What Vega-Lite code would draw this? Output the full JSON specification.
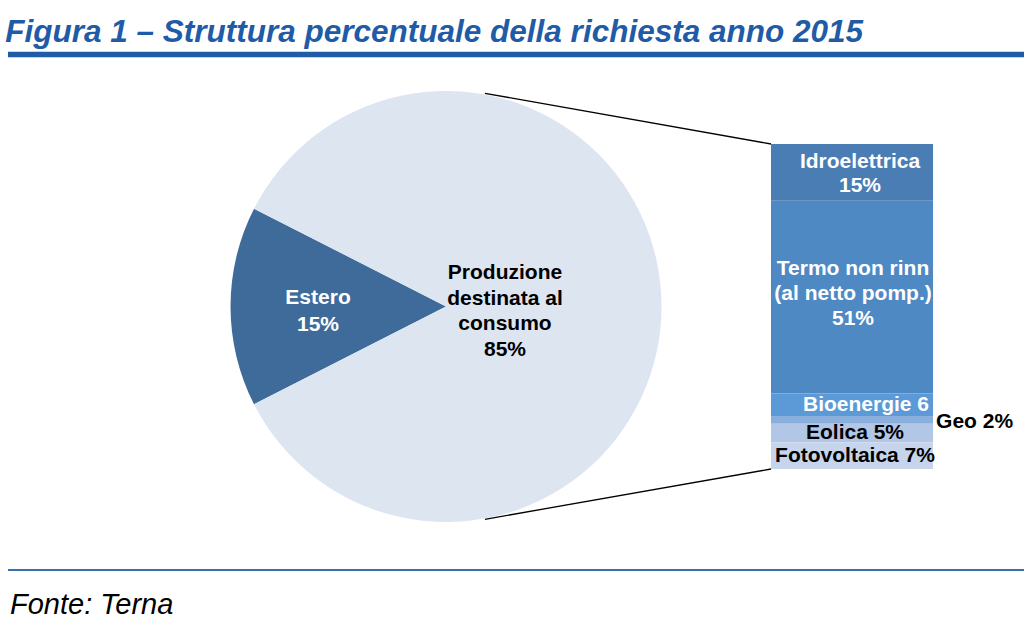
{
  "$schema": "https://vega.github.io/schema/vega-lite/v6.json",
  "width": 1014,
  "height": 517,
  "autosize": {"type": "none"},
  "padding": {"left": 10, "top": 53, "right": 0, "bottom": 54},
  "background": "white",
  "title": {
    "text": "Figura 1 – Struttura percentuale della richiesta anno 2015",
    "anchor": "start",
    "font": "Liberation Sans",
    "fontSize": 31.5,
    "fontWeight": "bold",
    "fontStyle": "italic",
    "color": "#1f5ba6",
    "baseline": "alphabetic",
    "offset": 13,
    "dy": 34.5
  },
  "config": {
    "view": {"stroke": null},
    "text": {"font": "Liberation Sans"}
  },
  "datasets": {
    "richiesta": [
      {"voce": "Estero", "quota": 15, "ordine": 1, "etichetta": "Estero\n15%"},
      {"voce": "Produzione destinata al consumo", "quota": 85, "ordine": 2, "etichetta": "Produzione\ndestinata al\nconsumo\n85%"}
    ],
    "produzione": [
      {"fonte": "Idroelettrica", "quota": 15, "ordine": 6, "etichetta": "Idroelettrica\n15%"},
      {"fonte": "Termo non rinnovabile (al netto pomp.)", "quota": 51, "ordine": 5, "etichetta": "Termo non rinn\n(al netto pomp.)\n51%"},
      {"fonte": "Bioenergie", "quota": 6, "ordine": 4, "etichetta": "Bioenergie 6"},
      {"fonte": "Geotermica", "quota": 2, "ordine": 3, "etichetta": "Geo 2%"},
      {"fonte": "Eolica", "quota": 5, "ordine": 2, "etichetta": "Eolica 5%"},
      {"fonte": "Fotovoltaica", "quota": 7, "ordine": 1, "etichetta": "Fotovoltaica 7%"}
    ],
    "fonte": [
      {"testo": "Fonte: Terna"}
    ]
  },
  "resolve": {"scale": {"color": "independent"}},
  "layer": [
    {
      "data": {"values": [{}]},
      "mark": {"type": "rule", "color": "#1f5ba6", "strokeWidth": 5.5},
      "encoding": {
        "x": {"datum": -0.2, "scale": {"domain": [0, 100], "nice": false, "zero": false}, "axis": null},
        "x2": {"datum": 100},
        "y": {"datum": 109.7, "scale": {"domain": [-26.73, 110.08], "nice": false, "zero": false}, "axis": null}
      }
    },
    {
      "data": {"values": [{}]},
      "mark": {"type": "rule", "color": "#3c6ea8", "strokeWidth": 2},
      "encoding": {
        "x": {"datum": -0.2, "scale": {"domain": [0, 100], "nice": false, "zero": false}, "axis": null},
        "x2": {"datum": 100},
        "y": {"datum": -26.73, "scale": {"domain": [-26.73, 110.08], "nice": false, "zero": false}, "axis": null}
      }
    },
    {
      "data": {"name": "fonte"},
      "mark": {"type": "text", "font": "Liberation Sans", "fontSize": 29, "fontStyle": "italic", "color": "black", "align": "left", "baseline": "alphabetic", "dy": 44},
      "encoding": {
        "text": {"field": "testo"},
        "x": {"datum": 0, "scale": {"domain": [0, 100], "nice": false, "zero": false}, "axis": null},
        "y": {"datum": -26.73, "scale": {"domain": [-26.73, 110.08], "nice": false, "zero": false}, "axis": null}
      }
    },
    {
      "data": {"name": "richiesta"},
      "mark": {"type": "arc", "outerRadius": 215.5},
      "encoding": {
        "theta": {"field": "quota", "type": "quantitative", "stack": true, "scale": {"range": [4.2412, 10.5244]}},
        "order": {"field": "ordine"},
        "color": {
          "field": "voce",
          "type": "nominal",
          "scale": {"domain": ["Estero", "Produzione destinata al consumo"], "range": ["#3e6b99", "#dde5f1"]},
          "legend": null
        },
        "x": {"datum": 43.0, "scale": {"domain": [0, 100], "nice": false, "zero": false}, "axis": null},
        "y": {"datum": 43.0, "scale": {"domain": [-26.73, 110.08], "nice": false, "zero": false}, "axis": null}
      }
    },
    {
      "data": {"name": "produzione"},
      "transform": [
        {"stack": "quota", "groupby": [], "sort": [{"field": "ordine", "order": "ascending"}], "as": ["y0", "y1"]}
      ],
      "mark": {"type": "rect"},
      "encoding": {
        "x": {"datum": 75.05, "scale": {"domain": [0, 100], "nice": false, "zero": false}, "axis": null},
        "x2": {"datum": 91.03},
        "y": {"field": "y0", "type": "quantitative", "scale": {"domain": [-26.73, 110.08], "nice": false, "zero": false}, "axis": null},
        "y2": {"field": "y1"},
        "color": {
          "field": "fonte",
          "type": "nominal",
          "scale": {
            "domain": ["Idroelettrica", "Termo non rinnovabile (al netto pomp.)", "Bioenergie", "Geotermica", "Eolica", "Fotovoltaica"],
            "range": ["#4a7db3", "#4f89c4", "#5b9ad6", "#8aafdc", "#b2c6e5", "#c7d5ec"]
          },
          "legend": null
        }
      }
    },
    {
      "data": {"values": [{}]},
      "mark": {"type": "rule", "color": "black", "strokeWidth": 1.3},
      "encoding": {
        "x": {"datum": 46.84, "scale": {"domain": [0, 100], "nice": false, "zero": false}, "axis": null},
        "x2": {"datum": 75.05},
        "y": {"datum": 99.42, "scale": {"domain": [-26.73, 110.08], "nice": false, "zero": false}, "axis": null},
        "y2": {"datum": 86}
      }
    },
    {
      "data": {"values": [{}]},
      "mark": {"type": "rule", "color": "black", "strokeWidth": 1.3},
      "encoding": {
        "x": {"datum": 46.84, "scale": {"domain": [0, 100], "nice": false, "zero": false}, "axis": null},
        "x2": {"datum": 75.05},
        "y": {"datum": -13.31, "scale": {"domain": [-26.73, 110.08], "nice": false, "zero": false}, "axis": null},
        "y2": {"datum": 0}
      }
    },
    {
      "data": {"name": "richiesta"},
      "layer": [
        {
          "transform": [{"filter": {"field": "voce", "equal": "Estero"}}],
          "mark": {"type": "text", "fontSize": 21, "fontWeight": "bold", "color": "white", "lineBreak": "\n", "lineHeight": 27, "align": "center", "baseline": "middle", "dx": -128, "dy": -8.5},
          "encoding": {
            "text": {"field": "etichetta"},
            "x": {"datum": 43.0, "scale": {"domain": [0, 100], "nice": false, "zero": false}, "axis": null},
            "y": {"datum": 43.0, "scale": {"domain": [-26.73, 110.08], "nice": false, "zero": false}, "axis": null}
          }
        },
        {
          "transform": [{"filter": {"field": "voce", "equal": "Produzione destinata al consumo"}}],
          "mark": {"type": "text", "fontSize": 21, "fontWeight": "bold", "color": "black", "lineBreak": "\n", "lineHeight": 25.5, "align": "center", "baseline": "middle", "dx": 59, "dy": -33},
          "encoding": {
            "text": {"field": "etichetta"},
            "x": {"datum": 43.0, "scale": {"domain": [0, 100], "nice": false, "zero": false}, "axis": null},
            "y": {"datum": 43.0, "scale": {"domain": [-26.73, 110.08], "nice": false, "zero": false}, "axis": null}
          }
        }
      ]
    },
    {
      "data": {"name": "produzione"},
      "transform": [
        {"stack": "quota", "groupby": [], "sort": [{"field": "ordine", "order": "ascending"}], "as": ["y0", "y1"]},
        {"fold": ["y0", "y1"], "as": ["estremo", "valore"]},
        {"aggregate": [{"op": "mean", "field": "valore", "as": "centro"}], "groupby": ["fonte", "etichetta"]}
      ],
      "layer": [
        {
          "transform": [{"filter": {"field": "fonte", "equal": "Idroelettrica"}}],
          "mark": {"type": "text", "fontSize": 21, "fontWeight": "bold", "color": "white", "lineBreak": "\n", "lineHeight": 24.5, "align": "center", "baseline": "middle", "dx": 8, "dy": -10.5},
          "encoding": {
            "text": {"field": "etichetta"},
            "x": {"datum": 83.04, "scale": {"domain": [0, 100], "nice": false, "zero": false}, "axis": null},
            "y": {"field": "centro", "type": "quantitative", "scale": {"domain": [-26.73, 110.08], "nice": false, "zero": false}, "axis": null}
          }
        },
        {
          "transform": [{"filter": {"field": "fonte", "equal": "Termo non rinnovabile (al netto pomp.)"}}],
          "mark": {"type": "text", "fontSize": 21, "fontWeight": "bold", "color": "white", "lineBreak": "\n", "lineHeight": 25, "align": "center", "baseline": "middle", "dx": 1, "dy": -28},
          "encoding": {
            "text": {"field": "etichetta"},
            "x": {"datum": 83.04, "scale": {"domain": [0, 100], "nice": false, "zero": false}, "axis": null},
            "y": {"field": "centro", "type": "quantitative", "scale": {"domain": [-26.73, 110.08], "nice": false, "zero": false}, "axis": null}
          }
        },
        {
          "transform": [{"filter": {"field": "fonte", "equal": "Bioenergie"}}],
          "mark": {"type": "text", "fontSize": 21, "fontWeight": "bold", "color": "white", "align": "center", "baseline": "middle", "dx": 14},
          "encoding": {
            "text": {"field": "etichetta"},
            "x": {"datum": 83.04, "scale": {"domain": [0, 100], "nice": false, "zero": false}, "axis": null},
            "y": {"field": "centro", "type": "quantitative", "scale": {"domain": [-26.73, 110.08], "nice": false, "zero": false}, "axis": null}
          }
        },
        {
          "transform": [{"filter": {"field": "fonte", "oneOf": ["Eolica", "Fotovoltaica"]}}],
          "mark": {"type": "text", "fontSize": 21, "fontWeight": "bold", "color": "black", "align": "center", "baseline": "middle", "dx": 3},
          "encoding": {
            "text": {"field": "etichetta"},
            "x": {"datum": 83.04, "scale": {"domain": [0, 100], "nice": false, "zero": false}, "axis": null},
            "y": {"field": "centro", "type": "quantitative", "scale": {"domain": [-26.73, 110.08], "nice": false, "zero": false}, "axis": null}
          }
        },
        {
          "transform": [{"filter": {"field": "fonte", "equal": "Geotermica"}}],
          "mark": {"type": "text", "fontSize": 21, "fontWeight": "bold", "color": "black", "align": "left", "baseline": "middle", "dx": 3, "dy": 2},
          "encoding": {
            "text": {"field": "etichetta"},
            "x": {"datum": 91.03, "scale": {"domain": [0, 100], "nice": false, "zero": false}, "axis": null},
            "y": {"field": "centro", "type": "quantitative", "scale": {"domain": [-26.73, 110.08], "nice": false, "zero": false}, "axis": null}
          }
        }
      ]
    }
  ]
}
